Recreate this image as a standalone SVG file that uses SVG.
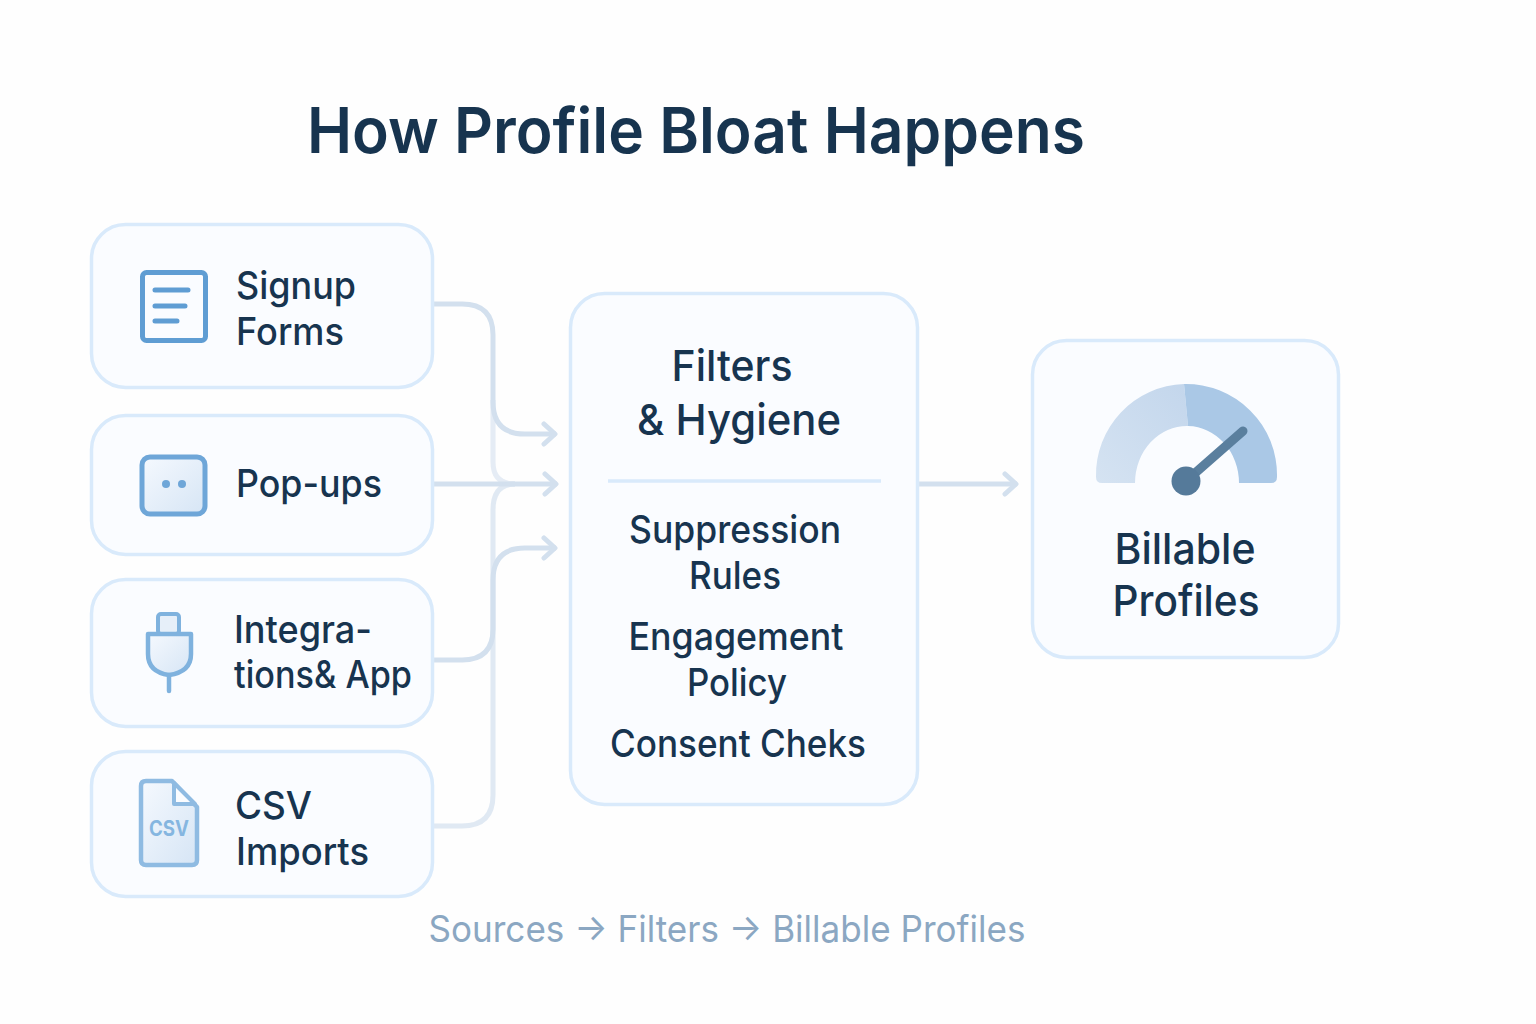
<svg xmlns="http://www.w3.org/2000/svg" width="1536" height="1024" viewBox="0 0 1536 1024">
<defs>
<linearGradient id="ig" x1="0" y1="0" x2="1" y2="1"><stop offset="0" stop-color="#f5f9fe"/><stop offset="1" stop-color="#d6e5f5"/></linearGradient>
<linearGradient id="g1" x1="0" y1="1" x2="1" y2="0"><stop offset="0" stop-color="#d5e3f2"/><stop offset="1" stop-color="#c3d6ec"/></linearGradient>
<marker id="ah" viewBox="0 0 20 26" refX="17" refY="13" markerWidth="20" markerHeight="26" markerUnits="userSpaceOnUse" orient="auto"><path d="M5 3L16 13L5 23" fill="none" stroke="#d3e0ee" stroke-width="5" stroke-linecap="round" stroke-linejoin="round"/></marker>
</defs>
<style>
.card{fill:#fafcff;stroke:#d9eafb;stroke-width:3.5}
text{font-family:Inter,"Noto Sans","Liberation Sans",sans-serif;fill:#17344f;font-weight:500}
.lb{font-size:38px}
.lc{font-size:38px;text-anchor:middle}
.big{font-size:43px;text-anchor:middle}
.con{fill:none;stroke:#d3e0ee;stroke-width:5}
.bar{stroke:#5f9dd3;stroke-width:5;stroke-linecap:round}
</style>
<rect width="1536" height="1024" fill="#fefefe"/>
<text id="title" x="696" y="153" font-size="63" text-anchor="middle" textLength="778" lengthAdjust="spacingAndGlyphs" style="font-weight:600">How Profile Bloat Happens</text>
<g id="connectors">
<path class="con" d="M434 304H462Q493 304 493 335V402Q493 434 525 434H556" marker-end="url(#ah)"/>
<path class="con" d="M493 400V462Q493 484 515 484" opacity=".6"/>
<path class="con" d="M434 484H557" marker-end="url(#ah)"/>
<path class="con" d="M434 660H462Q493 660 493 629V580Q493 548 525 548H556" marker-end="url(#ah)"/>
<path class="con" d="M434 826H462Q493 826 493 795V510Q493 484 515 484" opacity=".7"/>
<path class="con" d="M919 484H1017" marker-end="url(#ah)"/>
</g>
<g id="signup"><rect class="card" x="91.500" y="224.500" width="341" height="163" rx="34"/>
<rect x="142.500" y="272.500" width="63" height="68" rx="4" fill="#fafcff" stroke="#5f9dd3" stroke-width="5"/>
<path class="bar" d="M155 290H188M155 306H185M155 321H177"/>
<text class="lb" x="236" y="299" textLength="120" lengthAdjust="spacingAndGlyphs">Signup</text><text class="lb" x="236" y="345" textLength="108" lengthAdjust="spacingAndGlyphs">Forms</text></g>
<g id="popups"><rect class="card" x="91.500" y="415.500" width="341" height="139" rx="34"/>
<rect x="142" y="457" width="63" height="57" rx="8" fill="url(#ig)" stroke="#6ea6d8" stroke-width="5"/>
<circle cx="166" cy="484" r="4" fill="#6ea6d8"/><circle cx="182" cy="484" r="4" fill="#6ea6d8"/>
<text class="lb" x="236" y="497" textLength="146" lengthAdjust="spacingAndGlyphs">Pop-ups</text></g>
<g id="integrations"><rect class="card" x="91.500" y="579.500" width="341" height="147" rx="34"/>
<rect x="158" y="614" width="21" height="20" rx="3" fill="#e6eff9" stroke="#7fb2de" stroke-width="4"/>
<path d="M148 634H191V654Q191 672 169 675Q148 672 148 654Z" fill="url(#ig)" stroke="#7fb2de" stroke-width="4.500" stroke-linejoin="round"/>
<path d="M169 675V691" stroke="#7fb2de" stroke-width="4.500" stroke-linecap="round"/>
<text class="lb" x="234" y="643" textLength="138" lengthAdjust="spacingAndGlyphs">Integra-</text><text class="lb" x="234" y="688" textLength="178" lengthAdjust="spacingAndGlyphs">tions&amp; App</text></g>
<g id="csv"><rect class="card" x="91.500" y="751.500" width="341" height="145" rx="34"/>
<path d="M146 781H172L197 807V860Q197 865 192 865H146Q141 865 141 860V786Q141 781 146 781Z" fill="url(#ig)" stroke="#8fbbe2" stroke-width="4.500" stroke-linejoin="round"/>
<path d="M174 783V804H195Z" fill="#fafcff" stroke="#8fbbe2" stroke-width="4" stroke-linejoin="round"/>
<text x="169" y="836" font-size="21" text-anchor="middle" textLength="40" lengthAdjust="spacingAndGlyphs" style="fill:#85b6e0;font-weight:700">CSV</text>
<text class="lb" x="235" y="819" textLength="77" lengthAdjust="spacingAndGlyphs">CSV</text><text class="lb" x="236" y="865" textLength="133" lengthAdjust="spacingAndGlyphs">Imports</text></g>
<g id="filters"><rect class="card" x="570.500" y="293.500" width="347" height="511" rx="34"/>
<text class="big" x="732" y="381" textLength="121" lengthAdjust="spacingAndGlyphs">Filters</text><text class="big" x="739" y="435" textLength="204" lengthAdjust="spacingAndGlyphs">&amp; Hygiene</text>
<path d="M608 481H881" stroke="#d9eafb" stroke-width="3.500"/>
<text class="lc" x="735" y="543" textLength="212" lengthAdjust="spacingAndGlyphs">Suppression</text><text class="lc" x="735" y="589" textLength="92" lengthAdjust="spacingAndGlyphs">Rules</text>
<text class="lc" x="736" y="650" textLength="215" lengthAdjust="spacingAndGlyphs">Engagement</text><text class="lc" x="737" y="696" textLength="100" lengthAdjust="spacingAndGlyphs">Policy</text>
<text class="lc" x="738" y="757" textLength="256" lengthAdjust="spacingAndGlyphs">Consent Cheks</text></g>
<g id="billable"><rect class="card" x="1032.500" y="340.500" width="306" height="317" rx="34"/>
<path d="M1184 384A91 91 0 0 0 1096 477Q1096 483 1102 483H1135A52 57 0 0 1 1188 426Z" fill="url(#g1)"/>
<path d="M1184 384A91 91 0 0 1 1277 477Q1277 483 1271 483H1239A52 57 0 0 0 1188 426Z" fill="#aac8e6"/>
<path d="M1186 481L1243 431" stroke="#5a7f9e" stroke-width="9" stroke-linecap="round"/>
<circle cx="1186" cy="481" r="14.500" fill="#557a9a"/>
<text class="big" x="1185" y="564" textLength="141" lengthAdjust="spacingAndGlyphs">Billable</text><text class="big" x="1186" y="616" textLength="147" lengthAdjust="spacingAndGlyphs">Profiles</text></g>
<text id="caption" x="727" y="942" font-size="37" text-anchor="middle" textLength="597" lengthAdjust="spacingAndGlyphs" style="fill:#8ba7c2;font-weight:400">Sources → Filters → Billable Profiles</text>
</svg>
